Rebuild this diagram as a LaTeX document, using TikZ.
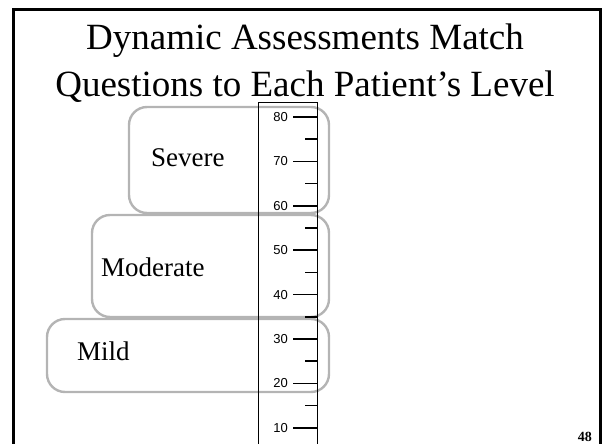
\documentclass[tikz,border=0pt]{standalone}
\usepackage{fontspec}
\setmainfont{Liberation Serif}
\newfontfamily\rulerfont{Liberation Sans}
\definecolor{boxgray}{HTML}{B4B4B4}
\tikzset{
  levelbox/.style={draw=boxgray, line width=2.4pt, rounded corners=18pt},
  levellabel/.style={anchor=base west, inner sep=0pt, font=\fontsize{27}{27}\selectfont},
  titleline/.style={anchor=base, inner sep=0pt, font=\fontsize{37}{37}\selectfont},
  majortick/.style={line width=1.5pt},
  minortick/.style={line width=1.5pt},
  ticklabel/.style={anchor=east, inner sep=0pt, font=\rulerfont\fontsize{13}{13}\selectfont},
}
\begin{document}
\begin{tikzpicture}[x=1pt, y=-1pt]
  \useasboundingbox (0,0) rectangle (602,444);
  \clip (0,0) rectangle (602,444);

  % slide frame
  \draw[line width=2.8pt] (13.5,460) -- (13.5,9.5) -- (600.5,9.5) -- (600.5,460);

  % title
  \node[titleline] (title1) at (305,50) {Dynamic Assessments Match};
  \node[titleline] (title2) at (305,96) {Questions to Each Patient’s Level};

  % level bands
  \draw[levelbox] (129,107) rectangle (329,213);
  \draw[levelbox] (92,215) rectangle (329,317);
  \draw[levelbox] (47,319) rectangle (329,392);

  \node[levellabel] (severe) at (151,166) {Severe};
  \node[levellabel] (moderate) at (101,276) {Moderate};
  \node[levellabel] (mild) at (77,360) {Mild};

  % ruler
  \draw[line width=0.9pt] (258,460) -- (258,102) -- (317,102) -- (317,460);
  \foreach \v in {80,70,...,10} {
    \pgfmathsetmacro{\yy}{117+(80-\v)*4.44}
    \draw[majortick] (293,\yy) -- (317,\yy);
    \node[ticklabel] (lab\v) at (288,\yy) {\v};
  }
  \foreach \v in {75,65,...,15} {
    \pgfmathsetmacro{\yy}{117+(80-\v)*4.44}
    \draw[minortick] (305,\yy) -- (317,\yy);
  }

  % page number
  \node[anchor=base east, inner sep=0pt, font=\bfseries\fontsize{14}{14}\selectfont] (pagenum) at (592,441) {48};
\end{tikzpicture}
\end{document}
